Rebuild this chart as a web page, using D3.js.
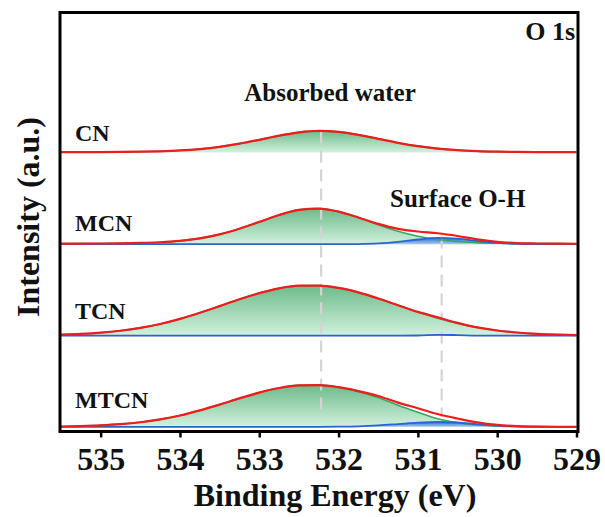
<!DOCTYPE html>
<html>
<head>
<meta charset="utf-8">
<script src="https://cdn.jsdelivr.net/npm/d3@7"></script>
<style>
  body { margin: 0; background: #fff; }
  text { font-family: "Liberation Serif", "Times New Roman", serif; font-weight: bold; fill: #111; }
</style>
</head>
<body>
<svg id="chart" width="605" height="517"></svg>
<script>
// binding energy grid (eV)
const energy = [535.5, 535.25, 535.0, 534.75, 534.5, 534.25, 534.0, 533.75, 533.5, 533.25, 533.0, 532.75, 532.5, 532.25,
  532.0, 531.75, 531.5, 531.25, 531.0, 530.75, 530.5, 530.25, 530.0, 529.75, 529.5, 529.25, 529.0];

const samples = ["CN", "MCN", "TCN", "MTCN"];
// vertical stacking offset of each spectrum (a.u.)
const offsets = [279, 187.3, 95.9, 4.7];

// absorbed water component
const waterCN   = [0.30, 0.36, 0.43, 0.56, 0.78, 1.22, 2.03, 3.44, 5.68, 8.84, 12.7, 16.8, 20.1, 21.6, 20.6, 17.7, 13.7, 9.7, 6.35, 3.9, 2.3, 1.37, 0.86, 0.6, 0.46, 0.37, 0.31];
const waterMCN  = [0.52, 0.57, 0.69, 0.89, 1.25, 1.97, 3.36, 5.84, 9.83, 15.5, 22.3, 29.2, 34.3, 35.6, 32.6, 26.6, 19.5, 13.0, 8.0, 4.69, 2.70, 1.62, 1.07, 0.80, 0.64, 0.53, 0.45];
const waterTCN  = [0.88, 1.64, 2.89, 4.84, 7.69, 11.6, 16.7, 22.8, 29.5, 36.4, 42.5, 47.3, 49.9, 50.0, 47.7, 43.2, 37.1, 30.4, 23.6, 17.4, 12.2, 8.1, 5.1, 3.1, 1.76, 0.95, 0.49];
const waterMTCN = [0.30, 0.75, 1.46, 2.66, 4.58, 7.43, 11.3, 16.4, 22.2, 28.4, 34.2, 38.8, 41.4, 41.7, 39.5, 35.2, 29.4, 21.5, 14.5, 8.0, 4.0, 1.8, 0.7, 0.25, 0.08, 0.03, 0];

// surface O-H component
const ohCN   = null;
const ohMCN  = [0, 0, 0, 0, 0, 0, 0, 0, 0, 0, 0, 0, 0, 0, 0.02, 0.17, 0.77, 2.34, 4.69, 6.25, 5.53, 3.25, 1.27, 0.33, 0.06, 0, 0];
const ohTCN  = [0, 0, 0, 0, 0, 0, 0, 0, 0, 0, 0, 0, 0, 0, 0, 0, 0, 0, 0.1, 0.8, 0.5, 0.05, 0, 0, 0, 0, 0];
const ohMTCN = [0, 0, 0, 0, 0, 0, 0, 0, 0, 0, 0, 0, 0, 0, 0.14, 0.51, 1.38, 2.7, 4.1, 4.8, 4.3, 2.6, 1.2, 0.4, 0.1, 0.02, 0];

const waterSeries = [waterCN, waterMCN, waterTCN, waterMTCN];
const ohSeries = [ohCN, ohMCN, ohTCN, ohMTCN];

const xTicks = [535, 534, 533, 532, 531, 530, 529];
// dashed guide lines: energy, top and bottom (a.u.)
const guideEnergy = [532.22, 530.7];
const guideTop = [300, 195];
const guideBottom = [14.5, 14.5];

const svg = d3.select("#chart");

const x = d3.scaleLinear().domain([535.5, 529]).range([61, 576.5]);
const y = d3.scaleLinear().domain([0, 419]).range([431.5, 12.5]);

const defs = svg.append("defs");
function grad(id, top, bottom) {
  const g = defs.append("linearGradient").attr("id", id)
    .attr("x1", 0).attr("y1", 0).attr("x2", 0).attr("y2", 1);
  g.append("stop").attr("offset", "0%").attr("stop-color", top);
  g.append("stop").attr("offset", "100%").attr("stop-color", bottom);
}
grad("gGreen", "#6dbb8a", "#d2f1de");
grad("gBlue", "#2f6ccc", "#a9cdf0");

const areaG = svg.append("g");
const guideG = svg.append("g");
const lineG = svg.append("g");

samples.forEach((name, i) => {
  const off = offsets[i];
  const water = waterSeries[i];
  const oh = ohSeries[i];
  const pts = energy.map((e, k) => ({
    e: e,
    w: water[k],
    o: oh ? oh[k] : 0
  }));

  const area = key => d3.area()
    .x(d => x(d.e))
    .y0(y(off))
    .y1(d => y(off + d[key]))
    .curve(d3.curveMonotoneX);
  const line = fn => d3.line()
    .x(d => x(d.e))
    .y(d => y(off + fn(d)))
    .curve(d3.curveMonotoneX);

  areaG.append("path").datum(pts).attr("d", area("w")).attr("fill", "url(#gGreen)");
  if (oh) areaG.append("path").datum(pts).attr("d", area("o")).attr("fill", "url(#gBlue)");

  lineG.append("path").datum(pts).attr("d", line(d => d.w))
    .attr("fill", "none").attr("stroke", "#3aa55e").attr("stroke-width", 1.6);
  if (oh) lineG.append("path").datum(pts).attr("d", line(d => d.o))
    .attr("fill", "none").attr("stroke", "#2766d0").attr("stroke-width", 1.8);
  lineG.append("path").datum(pts).attr("d", line(d => d.w + d.o))
    .attr("fill", "none").attr("stroke", "#ee1c1c").attr("stroke-width", 2.2);

  svg.append("text")
    .attr("x", 75)
    .attr("y", [141, 231, 319, 408][i])
    .style("font-size", "24px")
    .text(name);
});

guideEnergy.forEach((e, i) => {
  guideG.append("line")
    .attr("x1", x(e)).attr("x2", x(e))
    .attr("y1", y(guideTop[i])).attr("y2", y(guideBottom[i]))
    .attr("stroke", "#d4d4d4")
    .attr("stroke-width", 2.2)
    .attr("stroke-dasharray", "12,7");
});

// frame
svg.append("rect")
  .attr("x", 60).attr("y", 12.5)
  .attr("width", 518).attr("height", 419)
  .attr("fill", "none").attr("stroke", "#000").attr("stroke-width", 3);

const xAxis = svg.append("g")
  .attr("transform", "translate(0,431.5)")
  .call(d3.axisBottom(x).tickValues(xTicks).tickSize(6).tickFormat(d3.format("d")));
xAxis.select(".domain").remove();
xAxis.selectAll(".tick line").attr("stroke", "#000").attr("stroke-width", 2.5);
xAxis.selectAll(".tick text")
  .attr("y", 38.5).attr("dy", 0)
  .style("font-size", "32px")
  .style("font-family", "'Liberation Serif', serif")
  .style("font-weight", "bold")
  .attr("fill", "#111");

svg.append("text")
  .attr("x", 335).attr("y", 506)
  .attr("text-anchor", "middle")
  .style("font-size", "32px")
  .text("Binding Energy (eV)");

svg.append("text")
  .attr("transform", "translate(39,217) rotate(-90)")
  .attr("text-anchor", "middle")
  .style("font-size", "32px")
  .text("Intensity (a.u.)");

svg.append("text")
  .attr("x", 330).attr("y", 101)
  .attr("text-anchor", "middle")
  .style("font-size", "25px")
  .text("Absorbed water");

svg.append("text")
  .attr("x", 390).attr("y", 207)
  .style("font-size", "25px")
  .text("Surface O-H");

svg.append("text")
  .attr("x", 575).attr("y", 40)
  .attr("text-anchor", "end")
  .style("font-size", "26px")
  .text("O 1s");
</script>
</body>
</html>
